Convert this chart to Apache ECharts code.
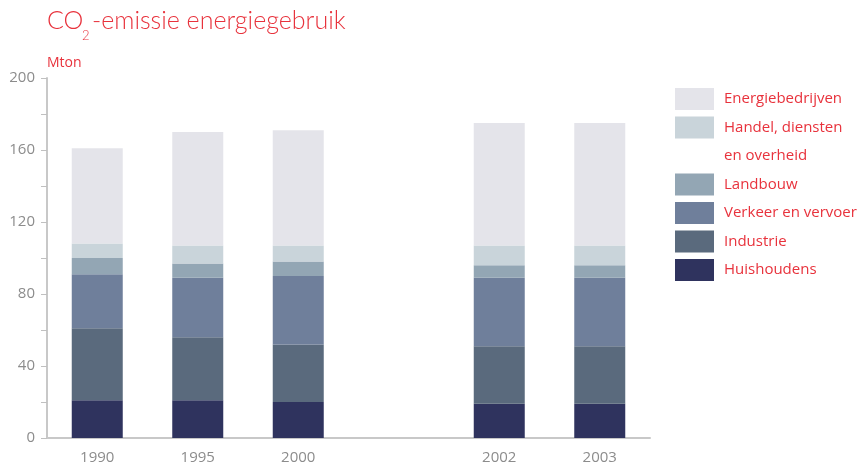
<!DOCTYPE html>
<html>
<head>
<meta charset="utf-8">
<script src="https://cdn.jsdelivr.net/npm/echarts@6/dist/echarts.min.js"></script>
<style>
  html, body { margin: 0; padding: 0; background: #fff; }
  #chart { width: 861px; height: 466px; }
</style>
</head>
<body>
<div id="chart"></div>
<script>
// categories (empty slot between 2000 and 2002)
const years = ['1990', '1995', '2000', '', '2002', '2003']

// Mton, bottom to top of each stack
const huishoudens = [21, 21, 20, null, 19, 19]
const industrie = [40, 35, 32, null, 32, 32]
const verkeer = [30, 33, 38, null, 38, 38]
const landbouw = [9, 8, 8, null, 7, 7]
const handel = [8, 10, 9, null, 11, 11]
const energie = [53, 63, 64, null, 68, 68]

const red = '#e8323c'
const grey = '#8c8c8c'
const font = 'Open Sans'

const stackSeries = [
    { name: 'Huishoudens', data: huishoudens, color: '#2f335e' },
    { name: 'Industrie', data: industrie, color: '#5a6a7d' },
    { name: 'Verkeer en vervoer', data: verkeer, color: '#6f7f9b' },
    { name: 'Landbouw', data: landbouw, color: '#93a6b4' },
    { name: 'Handel, diensten', data: handel, color: '#c9d4da' },
    { name: 'Energiebedrijven', data: energie, color: '#e4e4ea' }
]

const series = stackSeries.map(s => ({
    name: s.name,
    type: 'bar',
    stack: 'total',
    barWidth: 51,
    data: s.data,
    itemStyle: { color: s.color },
    emphasis: { disabled: true }
}))
// second line of the "Handel" legend entry
series.push({ name: 'en overheid', type: 'line', data: [], symbol: 'none' })

const titleStyle = { fontSize: 25, color: red, fontFamily: 'Lato', fontWeight: 300, lineHeight: 40 }

const chart = echarts.init(document.getElementById('chart'))
chart.setOption({
    animation: false,
    textStyle: { fontFamily: font },
    title: [{
        left: 47, top: 1, padding: 0,
        text: 'CO',
        textStyle: titleStyle
    }, {
        left: 82, top: 26, padding: 0,
        text: '2',
        textStyle: { fontSize: 13, color: red, fontFamily: 'Lato', fontWeight: 300, lineHeight: 20 }
    }, {
        left: 92, top: 1, padding: 0,
        text: '-emissie energiegebruik',
        textStyle: titleStyle
    }, {
        left: 47, top: 56, padding: 0,
        text: 'Mton',
        textStyle: { fontSize: 14, color: red, fontWeight: 'normal', fontFamily: font }
    }],
    legend: {
        orient: 'vertical',
        left: 675,
        top: 88,
        padding: 0,
        itemWidth: 39,
        itemHeight: 22,
        itemGap: 6.5,
        itemStyle: { borderWidth: 0 },
        icon: 'rect',
        selectedMode: false,
        textStyle: { color: red, fontSize: 15, fontFamily: font, padding: [0, 0, 0, 5] },
        data: [
            'Energiebedrijven',
            'Handel, diensten',
            { name: 'en overheid', icon: 'none', textStyle: { lineHeight: 22 } },
            'Landbouw',
            'Verkeer en vervoer',
            'Industrie',
            'Huishoudens'
        ]
    },
    grid: { left: 47, right: 211, top: 78, bottom: 28, containLabel: false },
    xAxis: {
        type: 'category',
        data: years,
        axisLine: { lineStyle: { color: '#c8c8c8', width: 2 } },
        axisTick: { show: false },
        axisLabel: { color: grey, fontSize: 15, margin: 12, fontFamily: font }
    },
    yAxis: {
        type: 'value',
        min: 0,
        max: 200,
        interval: 40,
        axisLine: { show: true, lineStyle: { color: '#c8c8c8', width: 2 } },
        axisTick: { show: true, length: 6, lineStyle: { color: '#c0c0c0' } },
        minorTick: { show: true, splitNumber: 2, length: 6, lineStyle: { color: '#c0c0c0' } },
        splitLine: { show: false },
        axisLabel: { color: grey, fontSize: 15, margin: 12, fontFamily: font }
    },
    series: series
})
</script>
</body>
</html>
